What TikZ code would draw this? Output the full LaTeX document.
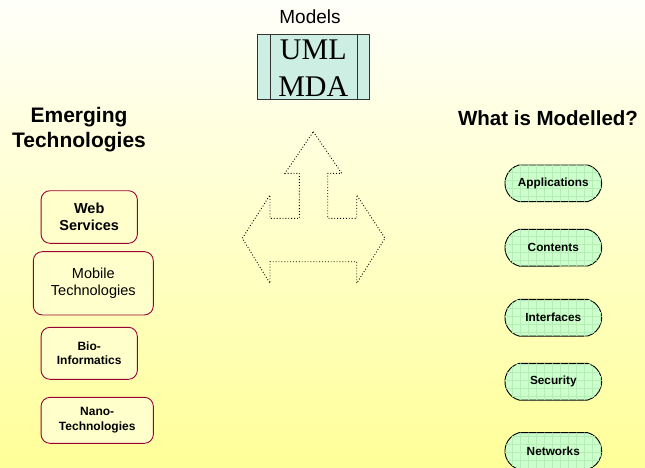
\documentclass[tikz,border=0pt]{standalone}
\usepackage{fontspec}
\setmainfont{Liberation Sans}
\newfontfamily\timesfont{Liberation Serif}
\usepackage{tikz}
\usetikzlibrary{calc,shapes.misc,patterns.meta}
\definecolor{bg_top}{HTML}{FFFFFA}
\definecolor{bg_bottom}{HTML}{FFFF99}
\definecolor{tech_red}{HTML}{990033}
\definecolor{tech_fill}{HTML}{FFFFCC}
\definecolor{mod_fill}{HTML}{CCFFCC}
\definecolor{mod_grid}{HTML}{B4EEB4}
\definecolor{uml_fill}{HTML}{CDEFE3}

\tikzset{
    techbox/.style={draw=tech_red, line width=0.9pt, fill=tech_fill, rounded corners=9pt,
        align=center, inner sep=0pt},
    modbox/.style={rounded rectangle, rounded rectangle arc length=150, draw=black,
        line width=0.9pt, fill=mod_fill,
        postaction={pattern={Hatch[distance=8pt, line width=0.3pt]}, pattern color=mod_grid},
        minimum width=96.7pt, minimum height=36.7pt, inner sep=0pt,
        font=\bfseries\fontsize{11.8}{14}\selectfont},
    heading/.style={font=\bfseries\fontsize{21}{25}\selectfont, align=center}
}

\begin{document}
\begin{tikzpicture}[x=1pt, y=-1pt]
            \useasboundingbox (0, 0) rectangle (645, 468);
            \shade[top color=bg_top, bottom color=bg_bottom] (0, 0) rectangle (645, 468);

            % models box
            \node (modelstitle) at (310, 16.7) {\fontsize{19}{22}\selectfont Models};
            \node[draw=black!80, line width=0.9pt, fill=uml_fill, minimum width=112pt,
                minimum height=64.7pt, inner sep=0pt] (uml) at (313.3, 66.7) {};
            \draw[black!80, line width=0.9pt] ([xshift=13.4pt]uml.north west) -- ([xshift=13.4pt]uml.south west);
            \draw[black!80, line width=0.9pt] ([xshift=-12.6pt]uml.north east) -- ([xshift=-12.6pt]uml.south east);
            \node[align=center, font=\timesfont\fontsize{30}{36.7}\selectfont] (umltext) at (313.3, 68.3) {UML\\MDA};

            % three way arrow
            \draw[dotted, line width=0.9pt] (313.3, 131.7) -- (341.7, 173.3) -- (327.7, 173.3)
                -- (327.7, 218.3) -- (356.7, 218.3) -- (356.7, 195) -- (385, 238.3)
                -- (356.7, 283.3) -- (356.7, 261.7) -- (270, 261.7) -- (270, 283.3)
                -- (242.3, 238.3) -- (270, 195) -- (270, 218.3) -- (299.3, 218.3)
                -- (299.3, 173.3) -- (285, 173.3) -- cycle;

            % emerging technologies
            \node[heading] (emerging) at (79, 129.5) {Emerging\\Technologies};
            \node[techbox, minimum width=96.3pt, minimum height=52.6pt,
                font=\bfseries\fontsize{14.5}{17.5}\selectfont] (web) at (89.2, 217) {Web\\Services};
            \node[techbox, minimum width=120pt, minimum height=63.3pt,
                font=\fontsize{14.5}{17.5}\selectfont] (mobile) at (93.3, 283.3) {Mobile\\Technologies};
            \node[techbox, minimum width=96.3pt, minimum height=52pt,
                font=\bfseries\fontsize{12}{14.5}\selectfont] (bio) at (89.2, 353.3) {Bio-\\Informatics};
            \node[techbox, minimum width=112.3pt, minimum height=46pt,
                font=\bfseries\fontsize{12}{14.5}\selectfont] (nano) at (97.2, 420.3) {Nano-\\Technologies};

            % what is modelled
            \node[heading, font=\bfseries\fontsize{20.5}{25}\selectfont] (modelled) at (548, 118.5) {What is Modelled?};
            \node[modbox] (applications) at (553.3, 183.3) {Applications};
            \node[modbox] (contents) at (553.3, 247.7) {Contents};
            \node[modbox] (interfaces) at (553.3, 317.7) {Interfaces};
            \node[modbox] (security) at (553.3, 381.7) {Security};
            \node[modbox] (networks) at (553.3, 451) {Networks};
\end{tikzpicture}
\end{document}
